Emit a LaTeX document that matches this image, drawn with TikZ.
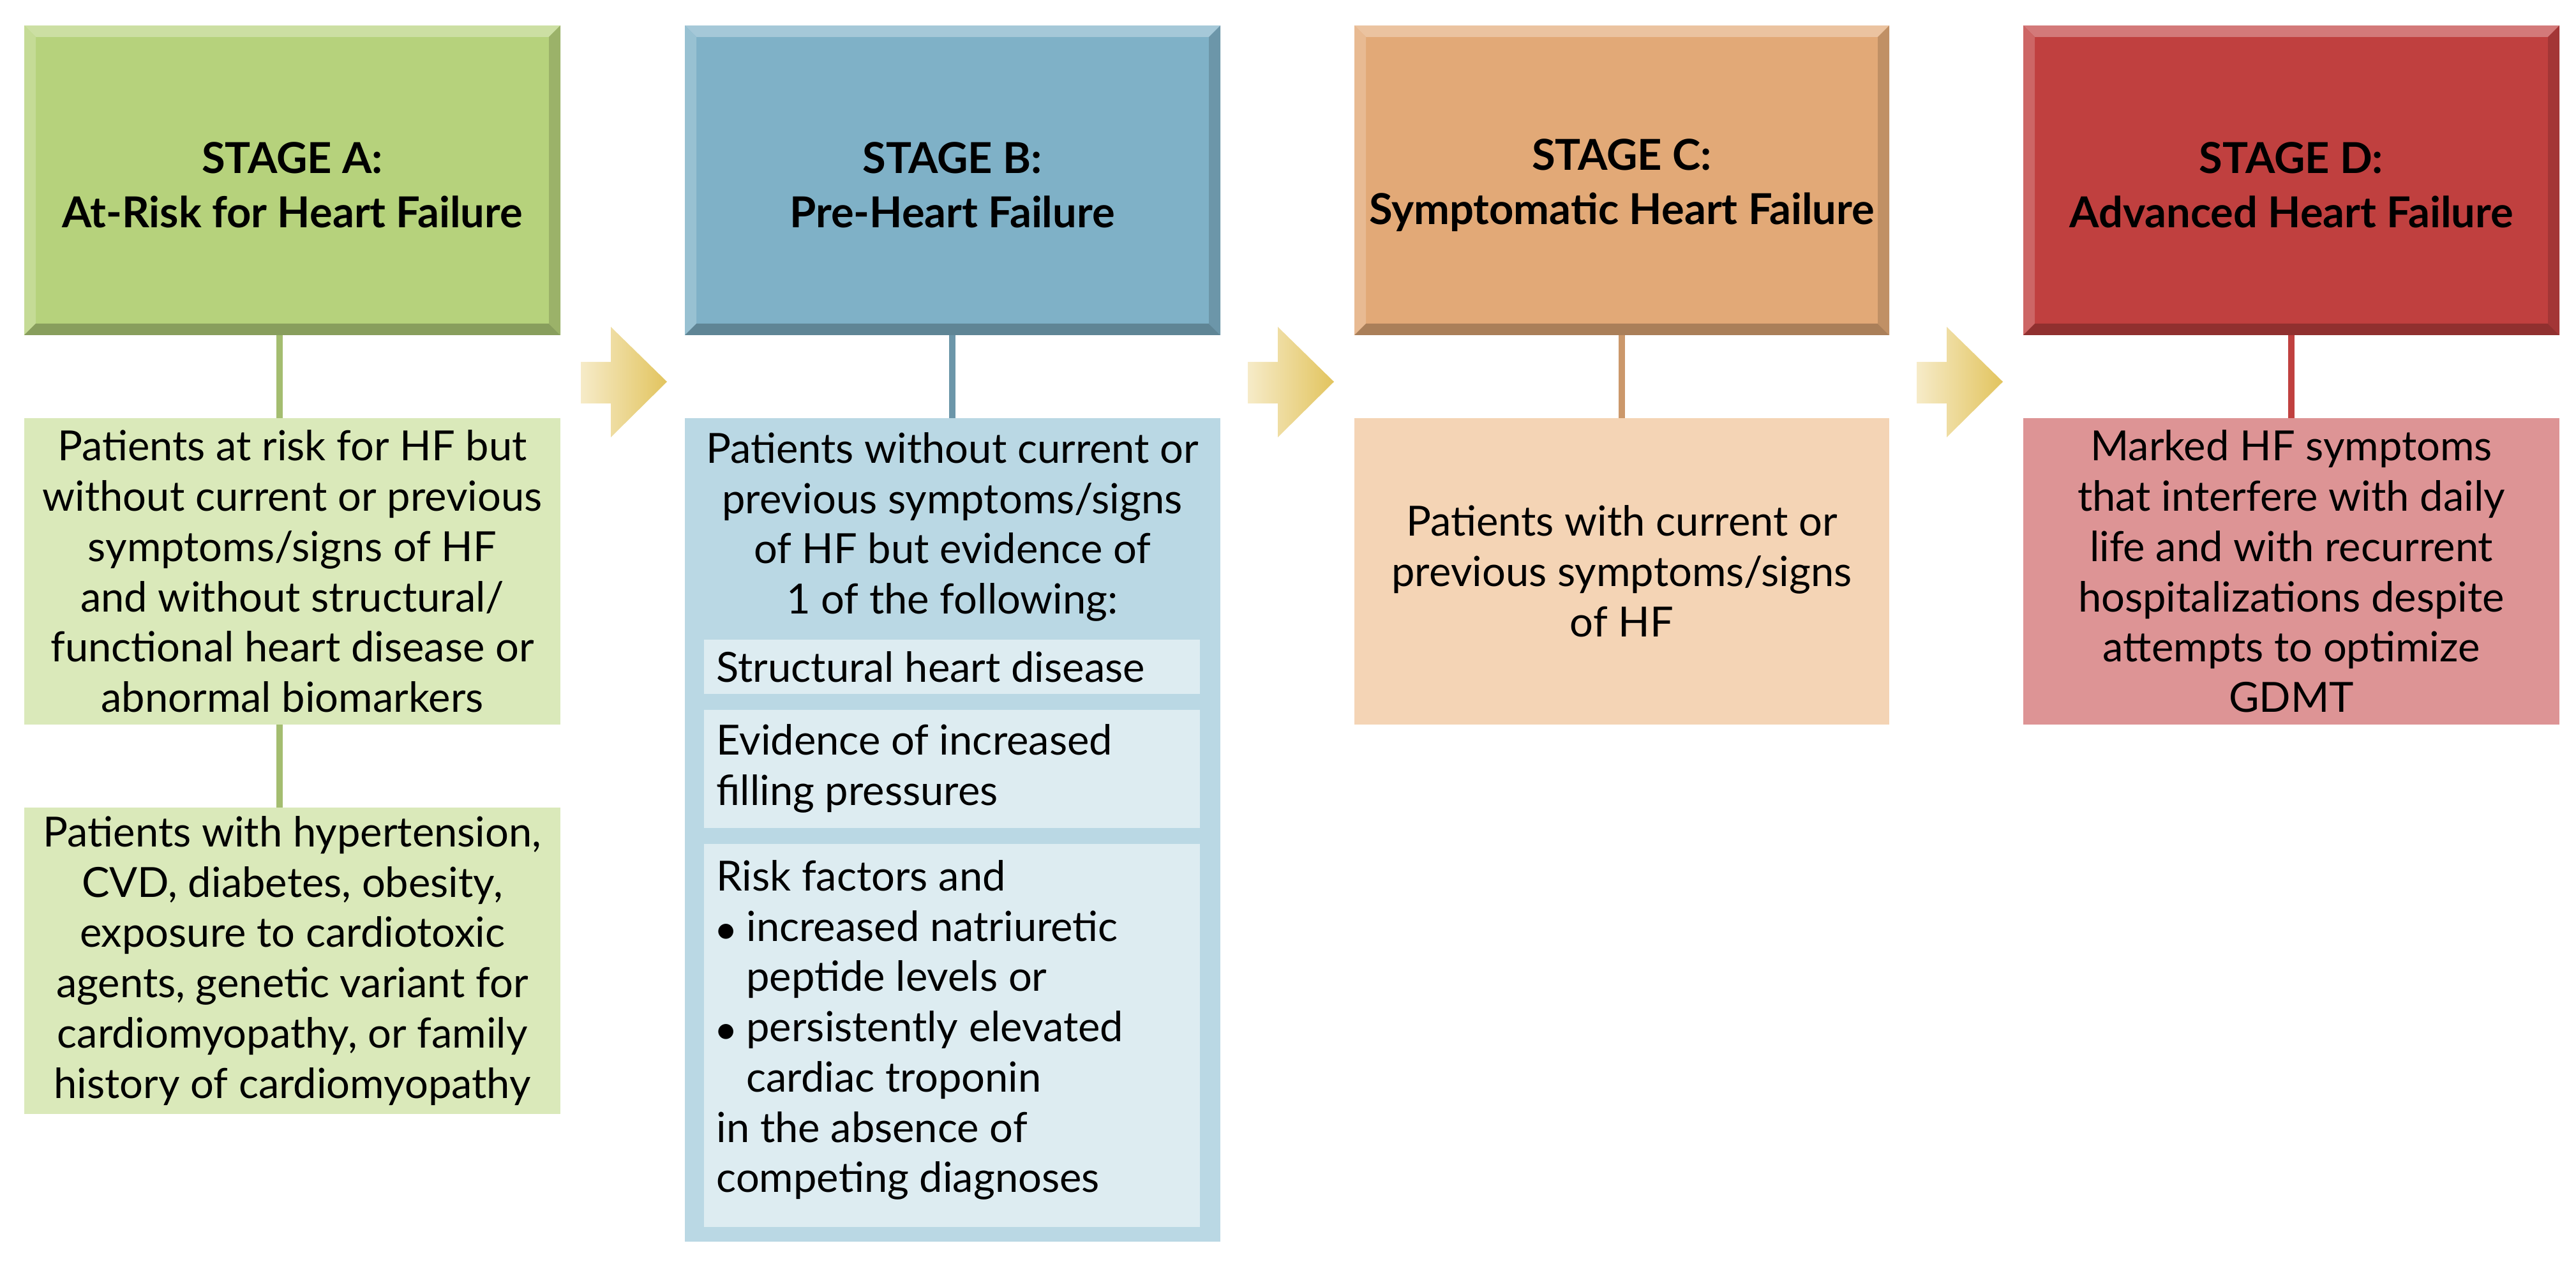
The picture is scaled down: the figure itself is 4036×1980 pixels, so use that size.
\documentclass[tikz,border=0pt]{standalone}
\usepackage{fontspec}
\setmainfont{Lato}
\usetikzlibrary{shadings}
\definecolor{ah}{HTML}{B6D27C}\definecolor{ab}{HTML}{DAE9BA}
\definecolor{bh}{HTML}{7FB1C7}\definecolor{bb}{HTML}{BAD8E4}\definecolor{bi}{HTML}{DDECF1}
\definecolor{ch}{HTML}{E2A977}\definecolor{cb}{HTML}{F4D4B5}
\definecolor{dh}{HTML}{C0403F}\definecolor{db}{HTML}{DD9495}
\definecolor{arL}{HTML}{F6EBC8}\definecolor{arR}{HTML}{E2C45E}
\newcommand{\bev}[5]{%
 \fill[#5] (#1,#2) rectangle (#3,#4);
 \fill[#5!70!white] (#1,#2)--(#3,#2)--(#3-18,#2+18)--(#1+18,#2+18)--cycle;
 \fill[#5!80!white] (#1,#2)--(#1+18,#2+18)--(#1+18,#4-18)--(#1,#4)--cycle;
 \fill[#5!75!black] (#1,#4)--(#3,#4)--(#3-18,#4-18)--(#1+18,#4-18)--cycle;
 \fill[#5!85!black] (#3,#2)--(#3,#4)--(#3-18,#4-18)--(#3-18,#2+18)--cycle;}
\newcommand{\arr}[1]{\shade[left color=arL,right color=arR,shift={(#1,0)}] (0,567)--(47,567)--(47,512)--(135,598)--(47,685)--(47,632)--(0,632)--cycle;}
\tikzset{x=0.01cm,y=-0.01cm,
 hd/.style={font=\fontsize{19}{24}\selectfont\bfseries,align=center},
 bd/.style={font=\fontsize{18.5}{22.4}\selectfont,align=center},
 bl/.style={font=\fontsize{18.5}{22.4}\selectfont,align=left,anchor=west}}
\begin{document}
\begin{tikzpicture}
\useasboundingbox (0,0) rectangle (4036,1980);
% connectors
\draw[line width=3.1pt,ah!90!black] (438,525)--(438,655) (438,1135)--(438,1265);
\draw[line width=3.1pt,bh!85!black] (1492,525)--(1492,655);
\draw[line width=3.1pt,ch!90!black] (2541,525)--(2541,655);
\draw[line width=3.1pt,dh] (3590,525)--(3590,655);
% headers
\bev{38}{40}{878}{525}{ah}
\bev{1073}{40}{1912}{525}{bh}
\bev{2122}{40}{2960}{525}{ch}
\bev{3170}{40}{4010}{525}{dh}
\node[hd] (ha) at (458,290) {STAGE A:\\At-Risk for Heart Failure};
\node[hd] (hb) at (1492,290) {STAGE B:\\Pre-Heart Failure};
\node[hd] (hc) at (2541,290) {STAGE C:\\Symptomatic Heart Failure};
\node[hd] (hd) at (3590,290) {STAGE D:\\Advanced Heart Failure};
% arrows
\arr{910}\arr{1955}\arr{3003}
% bodies
\fill[ab] (38,655) rectangle (878,1135);
\node[bd] (a1) at (458,895) {Patients at risk for HF but\\without current or previous\\symptoms/signs of HF\\and without structural/\\functional heart disease or\\abnormal biomarkers};
\fill[ab] (38,1265) rectangle (878,1745);
\node[bd] (a2) at (458,1505) {Patients with hypertension,\\CVD, diabetes, obesity,\\exposure to cardiotoxic\\agents, genetic variant for\\cardiomyopathy, or family\\history of cardiomyopathy};
\fill[bb] (1073,655) rectangle (1912,1945);
\node[bd,anchor=north] (b0) at (1492,665) {Patients without current or\\previous symptoms/signs\\of HF but evidence of\\1 of the following:};
\fill[bi] (1103,1002) rectangle (1880,1087);
\node[bl] (b1) at (1110,1045) {Structural heart disease};
\fill[bi] (1103,1112) rectangle (1880,1297);
\node[bl] (b2) at (1110,1204) {Evidence of increased\\filling pressures};
\fill[bi] (1103,1322) rectangle (1880,1922);
\node[bl,anchor=north west] (b3) at (1110,1335) {Risk factors and\\$\bullet$ increased natriuretic\\\hphantom{$\bullet$ }peptide levels or\\$\bullet$ persistently elevated\\\hphantom{$\bullet$ }cardiac troponin\\in the absence of\\competing diagnoses};
\fill[cb] (2122,655) rectangle (2960,1135);
\node[bd] (c1) at (2541,895) {Patients with current or\\previous symptoms/signs\\of HF};
\fill[db] (3170,655) rectangle (4010,1135);
\node[bd] (d1) at (3590,895) {Marked HF symptoms\\that interfere with daily\\life and with recurrent\\hospitalizations despite\\attempts to optimize\\GDMT};
\end{tikzpicture}
\end{document}
